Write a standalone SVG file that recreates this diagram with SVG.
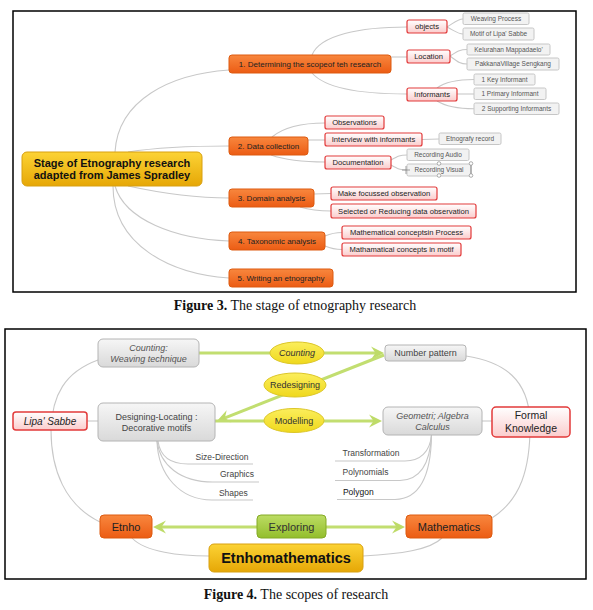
<svg xmlns="http://www.w3.org/2000/svg" width="593" height="610" viewBox="0 0 593 610">
<style>
text{font-family:"Liberation Sans",Arial,sans-serif;text-anchor:middle}
.frame{fill:none;stroke:#000;stroke-width:1.5}
.cap{font-family:"Liberation Serif","Times New Roman",serif;font-size:14px;fill:#111}
.org{fill:url(#gOrg);stroke:#dd5a10;stroke-width:1}
.gold{fill:url(#gGold);stroke:#d8a010;stroke-width:1}
.pink{fill:url(#gPink);stroke:#e23a3a;stroke-width:1.2}
.gry{fill:#f2f2f2;stroke:#c6c6c6;stroke-width:1}
.gbox{fill:url(#gGrey);stroke:#b4b4b4;stroke-width:1}
.yel{fill:url(#gYel);stroke:#dcc628;stroke-width:1}
.grn{fill:url(#gGrn);stroke:#84aa26;stroke-width:1}
.t1{font-size:8px;fill:#222}
.t2{font-size:7.6px;fill:#222}
.t3{font-size:6.5px;fill:#555}
.con{fill:none;stroke:#c8c8c8;stroke-width:1.1}
.arr{fill:none;stroke:#c2de70;stroke-width:3}
.sub{font-size:8.5px;fill:#444}
</style>
<defs>
<linearGradient id="gOrg" x1="0" y1="0" x2="0" y2="1"><stop offset="0" stop-color="#f8873e"/><stop offset="1" stop-color="#ec5c14"/></linearGradient>
<linearGradient id="gGold" x1="0" y1="0" x2="0" y2="1"><stop offset="0" stop-color="#fcd335"/><stop offset="1" stop-color="#e6a706"/></linearGradient>
<linearGradient id="gPink" x1="0" y1="0" x2="0" y2="1"><stop offset="0" stop-color="#ffffff"/><stop offset="1" stop-color="#fbcccc"/></linearGradient>
<linearGradient id="gGrey" x1="0" y1="0" x2="0" y2="1"><stop offset="0" stop-color="#f6f6f6"/><stop offset="1" stop-color="#d9d9d9"/></linearGradient>
<linearGradient id="gYel" x1="0" y1="0" x2="0" y2="1"><stop offset="0" stop-color="#fbee5c"/><stop offset="1" stop-color="#efd81c"/></linearGradient>
<linearGradient id="gGrn" x1="0" y1="0" x2="0" y2="1"><stop offset="0" stop-color="#bcdc64"/><stop offset="1" stop-color="#93be2c"/></linearGradient>
<marker id="ah" viewBox="-14 -8 15 16" refX="-8" refY="0" markerWidth="15" markerHeight="16" markerUnits="userSpaceOnUse" orient="auto">
<path d="M0,0 L-13,-6.5 L-8.5,0 L-13,6.5 Z" fill="#bedb68"/>
</marker>
</defs>

<!-- Figure 3 -->
<rect class="frame" x="13" y="11" width="563" height="281"/>

<g id="connectors-fig3">
<path class="con" d="M115,152 C118,100 170,74 229,70"/>
<path class="con" d="M128,152 C160,147 200,146 229,146"/>
<path class="con" d="M128,186 C165,194 200,198 229,198"/>
<path class="con" d="M115,186 C125,220 175,239 229,241"/>
<path class="con" d="M113,186 C113,245 170,274 229,278"/>
<path class="con" d="M312,55 C320,35 360,27 407,27"/>
<path class="con" d="M391,57 L407,57"/>
<path class="con" d="M312,73 C325,88 360,94 407,94"/>
<path class="con" d="M447,27 C455,22 458,19 463,19"/>
<path class="con" d="M447,27 C455,31 458,34 463,34"/>
<path class="con" d="M450,56 C458,51 460,49.5 467,49.5"/>
<path class="con" d="M450,56 C458,62 460,64 467,64"/>
<path class="con" d="M437,88 C445,82 458,79.5 474,79.5"/>
<path class="con" d="M457,94 L474,94"/>
<path class="con" d="M437,101 C445,106 458,108.75 474,108.75"/>
<path class="con" d="M272,137 C285,126 305,123 325,123"/>
<path class="con" d="M308,140 L325,140"/>
<path class="con" d="M271,155 C285,160 305,162 325,162"/>
<path class="con" d="M422,139.5 L439,139"/>
<path class="con" d="M391,160 C398,156 400,155 407,155"/>
<path class="con" d="M391,165 C398,169 400,170 407,170"/>
<path class="con" d="M314,194 L331,193.5"/>
<path class="con" d="M300,207 C310,210 320,211 331,211"/>
<path class="con" d="M325,236 C332,233 335,232.5 342,232.5"/>
<path class="con" d="M325,246 C332,249 335,249.5 342,249.5"/>
</g>

<g id="central"><rect class="gold" x="22" y="152" width="180" height="34" rx="5"/>
<text x="112" y="166.8" style="font-size:11px;font-weight:bold;fill:#111">Stage of Etnography research</text>
<text x="112" y="179.3" style="font-size:11px;font-weight:bold;fill:#111">adapted from James Spradley</text></g>

<g id="s1"><rect class="org" x="229" y="55" width="162" height="18" rx="3"/><text class="t1" x="310" y="66.8">1. Determining the scopeof teh research</text></g>
<g id="s2"><rect class="org" x="229" y="137" width="79" height="18" rx="3"/><text class="t1" x="268.5" y="148.8">2. Data collection</text></g>
<g id="s3"><rect class="org" x="229" y="189" width="85" height="18" rx="3"/><text class="t1" x="271.5" y="200.8">3. Domain analysis</text></g>
<g id="s4"><rect class="org" x="229" y="232" width="96" height="18" rx="3"/><text class="t1" x="277" y="243.8">4. Taxonomic analysis</text></g>
<g id="s5"><rect class="org" x="229" y="269" width="104" height="18" rx="3"/><text class="t1" x="281" y="280.8">5. Writing an etnography</text></g>

<g id="objects"><rect class="pink" x="407" y="20" width="40" height="13" rx="2"/><text class="t2" x="427" y="29.2">objects</text></g>
<g id="location"><rect class="pink" x="407" y="50" width="43" height="13" rx="2"/><text class="t2" x="428.5" y="59.2">Location</text></g>
<g id="informants"><rect class="pink" x="407" y="88" width="50" height="13" rx="2"/><text class="t2" x="432" y="97.2">Informants</text></g>
<g id="observations"><rect class="pink" x="325" y="116" width="59" height="13" rx="2"/><text class="t2" x="354.5" y="125.2">Observations</text></g>
<g id="interview"><rect class="pink" x="325" y="133" width="97" height="13" rx="2"/><text class="t2" x="373.5" y="142.2">Interview with informants</text></g>
<g id="documentation"><rect class="pink" x="325" y="156" width="66" height="13" rx="2"/><text class="t2" x="358" y="165.2">Documentation</text></g>
<g id="focussed"><rect class="pink" x="331" y="187" width="106" height="13" rx="2"/><text class="t2" x="384" y="196.2">Make focussed observation</text></g>
<g id="selected"><rect class="pink" x="331" y="204" width="145" height="14" rx="2"/><text class="t2" x="403.5" y="213.7">Selected or Reducing data observation</text></g>
<g id="mathproc"><rect class="pink" x="342" y="226" width="129" height="13" rx="2"/><text class="t2" x="406.5" y="235.2">Mathematical conceptsin Process</text></g>
<g id="mathmotif"><rect class="pink" x="342" y="243" width="119" height="13" rx="2"/><text class="t2" x="401.5" y="252.2">Mathamatical concepts in motif</text></g>

<g id="weaving"><rect class="gry" x="463" y="13" width="66" height="11.5" rx="1.5"/><text class="t3" x="496" y="21">Weaving Process</text></g>
<g id="motif"><rect class="gry" x="463" y="28" width="71" height="12" rx="1.5"/><text class="t3" x="498.5" y="36.3">Motif of Lipa' Sabbe</text></g>
<g id="kelurahan"><rect class="gry" x="467" y="44" width="83" height="11" rx="1.5"/><text class="t3" x="508.5" y="51.8">Kelurahan Mappadaelo'</text></g>
<g id="pakkana"><rect class="gry" x="467" y="58" width="92" height="12" rx="1.5"/><text class="t3" x="513" y="66.3">PakkanaVillage Sengkang</text></g>
<g id="key"><rect class="gry" x="474" y="74" width="61" height="11" rx="1.5"/><text class="t3" x="504.5" y="81.8">1 Key Informant</text></g>
<g id="primary"><rect class="gry" x="474" y="88" width="72" height="11.5" rx="1.5"/><text class="t3" x="510" y="96">1 Primary Informant</text></g>
<g id="supporting"><rect class="gry" x="474" y="103" width="85" height="11.5" rx="1.5"/><text class="t3" x="516.5" y="111">2 Supporting Informants</text></g>
<g id="etnografy"><rect class="gry" x="439" y="133" width="62" height="11.5" rx="1.5"/><text class="t3" x="470" y="141">Etnografy record</text></g>
<g id="audio"><rect class="gry" x="407" y="149" width="62" height="11.5" rx="1.5"/><text class="t3" x="438" y="157">Recording Audio</text></g>
<g id="visual"><rect class="gry" x="407" y="164" width="64" height="12" rx="1.5"/><text class="t3" x="439" y="172.3">Recording Visual</text>
<line x1="471" y1="163.5" x2="471" y2="175.5" stroke="#888" stroke-width="1"/>
<g fill="#fff" stroke="#999" stroke-width="0.8"><circle cx="439" cy="163.5" r="1.8"/><circle cx="471" cy="163.5" r="1.8"/><circle cx="439" cy="175.5" r="1.8"/><circle cx="471" cy="175.5" r="1.8"/></g>
<g stroke="#888" stroke-width="0.8"><line x1="402" y1="170" x2="410" y2="170"/><line x1="406" y1="166" x2="406" y2="174"/></g></g>

<text class="cap" x="295" y="309.5"><tspan font-weight="bold">Figure 3.</tspan> The stage of etnography research</text>

<!-- Figure 4 -->
<rect class="frame" x="5" y="329" width="581" height="250"/>

<g id="connectors-fig4">
<path class="con" d="M98,360 C65,372 52,395 51,430 C51,470 65,505 100,522"/>
<path class="con" d="M87,421 L98,421"/>
<path class="con" d="M466,356 C505,362 528,380 530,420 C531,470 520,500 492,518"/>
<path class="con" d="M482,421 L492,421"/>
<path class="con" d="M132,538 C145,552 180,556 209,556"/>
<path class="con" d="M442,538 C430,550 400,554 363,556"/>
<path class="con" d="M158,441 C160,456 170,464 188,464 L253,464"/>
<path class="con" d="M157,441 C160,465 180,482 213,482 L259,482"/>
<path class="con" d="M157,441 C158,475 180,500 212,500 L253,500"/>
<path class="con" d="M335,461 L405,461 C420,461 430,452 431.5,435"/>
<path class="con" d="M335,480.5 L400,480.5 C420,480 430,465 431.5,435"/>
<path class="con" d="M337,499.5 L395,499.5 C420,499 431,475 431.5,435"/>
<path class="arr" d="M199,353 L270,353"/>
<path class="arr" d="M324,353 L376,353" marker-end="url(#ah)"/>
<path class="arr" d="M384,355 L224.4,418.1" marker-end="url(#ah)"/>
<path class="arr" d="M215,421 L374,421" marker-end="url(#ah)"/>
<path class="arr" d="M257,527 L161,527" marker-end="url(#ah)"/>
<path class="arr" d="M326,527 L397,527" marker-end="url(#ah)"/>
</g>

<g id="counting-box"><rect class="gbox" x="98" y="339" width="101" height="28" rx="5"/>
<text x="148.5" y="350.5" style="font-size:9px;font-style:italic;fill:#555">Counting:</text>
<text x="148.5" y="362" style="font-size:9px;font-style:italic;fill:#555">Weaving technique</text></g>
<g id="designing"><rect class="gbox" x="98" y="403" width="117" height="38" rx="5"/>
<text x="156.5" y="419.8" style="font-size:9px;fill:#444">Designing-Locating :</text>
<text x="156.5" y="430.8" style="font-size:9px;fill:#444">Decorative motifs</text></g>
<g id="lipa"><rect class="pink" x="13" y="412" width="74" height="18" rx="3" style="stroke-width:1.5"/>
<text x="50" y="424.5" style="font-size:10px;font-style:italic;fill:#222">Lipa' Sabbe</text></g>
<g id="number-pattern"><rect class="gbox" x="385" y="345" width="81" height="16" rx="3"/>
<text x="425.5" y="356.2" style="font-size:9px;fill:#444">Number pattern</text></g>
<g id="geometri"><rect class="gbox" x="383" y="407" width="99" height="28" rx="5"/>
<text x="432.5" y="418.8" style="font-size:9px;font-style:italic;fill:#555">Geometri; Algebra</text>
<text x="432.5" y="429.8" style="font-size:9px;font-style:italic;fill:#555">Calculus</text></g>
<g id="formal"><rect class="pink" x="492" y="407" width="78" height="30" rx="4" style="stroke-width:1.5"/>
<text x="531" y="419.3" style="font-size:10.5px;fill:#222">Formal</text>
<text x="531" y="432" style="font-size:10.5px;fill:#222">Knowledge</text></g>
<g id="counting"><ellipse class="yel" cx="297" cy="353" rx="27" ry="11"/><text x="297" y="356.2" style="font-size:9px;font-style:italic;fill:#333">Counting</text></g>
<g id="redesigning"><ellipse class="yel" cx="295" cy="385" rx="31" ry="12"/><text x="295" y="388.2" style="font-size:9px;fill:#333">Redesigning</text></g>
<g id="modelling"><ellipse class="yel" cx="294" cy="420.5" rx="30" ry="12"/><text x="294" y="423.7" style="font-size:9px;fill:#333">Modelling</text></g>
<g id="size-direction"><text class="sub" x="222" y="459.7">Size-Direction</text></g>
<g id="graphics"><text class="sub" x="237" y="477.3">Graphics</text></g>
<g id="shapes"><text class="sub" x="233.3" y="495.7">Shapes</text></g>
<g id="transformation"><text class="sub" x="371" y="455.7">Transformation</text></g>
<g id="polynomials"><text class="sub" x="365.5" y="475.3">Polynomials</text></g>
<g id="polygon"><text class="sub" x="358.3" y="494.7" style="fill:#111">Polygon</text></g>
<g id="etnho"><rect class="org" x="100" y="515" width="52" height="23" rx="4"/><text x="126" y="530.5" style="font-size:11px;fill:#222">Etnho</text></g>
<g id="exploring"><rect class="grn" x="257" y="515" width="69" height="23" rx="4"/><text x="291.5" y="530.5" style="font-size:11px;fill:#333">Exploring</text></g>
<g id="mathematics"><rect class="org" x="406" y="515" width="86" height="23" rx="4"/><text x="449" y="530.5" style="font-size:11px;fill:#222">Mathematics</text></g>
<g id="etnhomathematics"><rect class="gold" x="209" y="544" width="154" height="28" rx="5"/><text x="286" y="563.2" style="font-size:14.5px;font-weight:bold;fill:#111">Etnhomathematics</text></g>

<text class="cap" x="296" y="598.5"><tspan font-weight="bold">Figure 4.</tspan> The scopes of research</text>
</svg>
